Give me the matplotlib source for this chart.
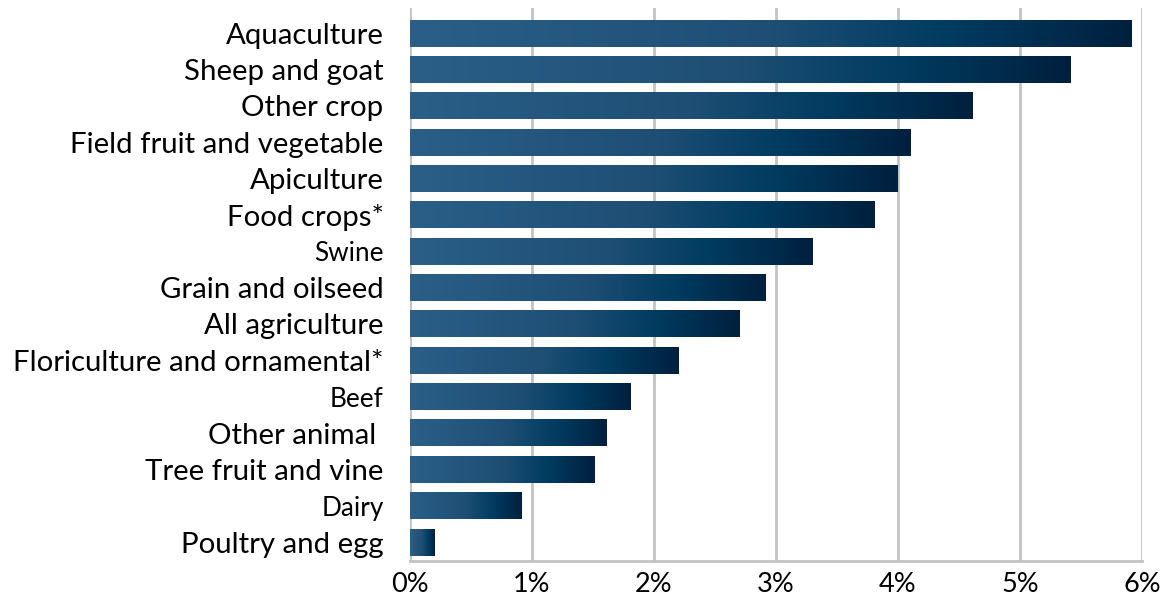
import numpy as np
import matplotlib.pyplot as plt
from matplotlib.colors import LinearSegmentedColormap

plt.rcParams['font.family'] = ['Lato', 'DejaVu Sans']

# data, top to bottom as in the picture
categories = [
    'Aquaculture', 'Sheep and goat', 'Other crop', 'Field fruit and vegetable',
    'Apiculture', 'Food crops*', 'Swine', 'Grain and oilseed', 'All agriculture',
    'Floriculture and ornamental*', 'Beef', 'Other animal ', 'Tree fruit and vine',
    'Dairy', 'Poultry and egg',
]
values = [5.91, 5.41, 4.61, 4.10, 4.0, 3.81, 3.30, 2.91, 2.70, 2.20, 1.81, 1.61, 1.51, 0.91, 0.20]
small_labels = {'Swine', 'Beef', 'Dairy'}
xticks = [0, 1, 2, 3, 4, 5, 6]

grad = LinearSegmentedColormap.from_list(
    'bar', [(0.0, '#2b5f88'), (0.5, '#1e4e74'), (0.75, '#003b60'), (1.0, '#00203e')])

fig = plt.figure(figsize=(11.66, 6.02), dpi=100)
ax = fig.add_axes([410 / 1166, 1 - 561 / 602, 732 / 1166, 553 / 602])

n = len(categories)
ypos = np.arange(n)[::-1]
bar_h = 0.74
ramp = np.linspace(0, 1, 256).reshape(1, -1)
for y, v in zip(ypos, values):
    ax.imshow(ramp, cmap=grad, aspect='auto', interpolation='bilinear',
              extent=(0, v, y - bar_h / 2, y + bar_h / 2), zorder=3)

ax.set_xlim(0, 6)
ax.set_ylim(-0.52, n - 1 + 0.69)

ax.set_xticks(xticks)
ax.set_xticklabels([f'{t}%' for t in xticks], fontsize=19.5)
ax.set_yticks(ypos)
ax.set_yticklabels(categories)
for lab in ax.get_yticklabels():
    lab.set_fontsize(18.8 if lab.get_text() in small_labels else 21.2)
ax.tick_params(axis='x', length=0, pad=8)
ax.tick_params(axis='y', length=0, pad=19)

ax.grid(axis='x', color='#c3c3c5', linewidth=2, zorder=0)
for s in ['top', 'right', 'left']:
    ax.spines[s].set_visible(False)
ax.spines['bottom'].set_color('#c3c3c5')
ax.spines['bottom'].set_linewidth(2)

fig.savefig('out.png', dpi=100)
